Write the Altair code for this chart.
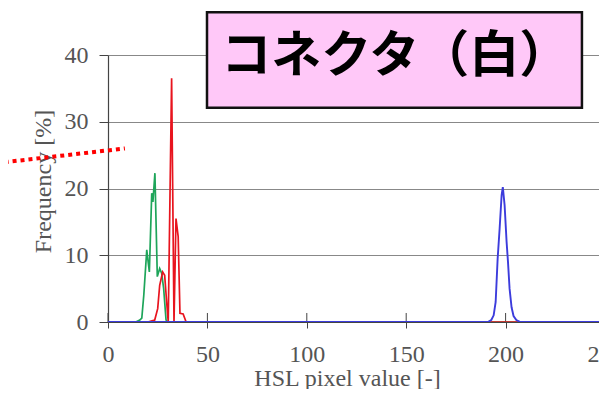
import altair as alt
import pandas as pd

# Series (HSL pixel value, frequency %)
green_x = [0, 14, 16, 17, 18, 19.5, 20.8, 22, 22.6, 23.6, 24.8, 26, 27, 28, 29.2, 30, 255]
green_y = [0, 0, 0.3, 0.6, 4, 10.8, 7.5, 19.3, 18, 22.3, 6.8, 8, 7.3, 5, 0.3, 0, 0]

red_x = [0, 20, 23.5, 25, 26, 27.5, 28.5, 29.5, 30.3, 32, 33.2, 34.2, 35.3, 36.2, 37.8, 39.3, 255]
red_y = [0, 0, 0.3, 2, 5.5, 7.5, 7, 3, 0, 36.5, 0, 15.5, 12.8, 1.3, 1.2, 0, 0]

blue_x = [0, 191, 192.8, 194, 195, 196, 197, 198, 198.6, 199.5, 200.5, 201.2, 202, 203, 204, 205.4, 207, 255]
blue_y = [0, 0, 0.3, 1, 3, 9.5, 14, 19, 20.2, 17.5, 12, 9, 5, 2.2, 0.9, 0.3, 0.05, 0]

x_ticks = [0, 50, 100, 150, 200, 250]
y_ticks = [0, 10, 20, 30, 40]
title_text = "コネクタ（白）"

rows = []
for name, xs, ys in [("green", green_x, green_y), ("red", red_x, red_y), ("blue", blue_x, blue_y)]:
    for xv, yv in zip(xs, ys):
        rows.append({"series": name, "x": xv, "y": yv})
df = pd.DataFrame(rows)

colors = {"green": "#1ea55a", "red": "#e8141e", "blue": "#3c3cdc"}

xscale = alt.Scale(domain=[0, 250], nice=False, zero=False)
yscale = alt.Scale(domain=[0, 40], nice=False)

xaxis = alt.Axis(values=x_ticks, title="HSL pixel value [-]", grid=False, tickSize=6,
                 labelPadding=14, titleX=239, titleY=63, titleBaseline="alphabetic",
                 labelFlush=False)
yaxis = alt.Axis(values=y_ticks, title="Frequency [%]", grid=True, tickSize=9,
                 labelPadding=11, titleX=-65, titleY=126, titleBaseline="middle",
                 titleAngle=270)

base = alt.Chart(df)

def series_layer(name, width):
    return base.transform_filter(alt.datum.series == name).mark_line(
        color=colors[name], strokeWidth=width, clip=True
    ).encode(
        x=alt.X("x:Q", scale=xscale, axis=xaxis),
        y=alt.Y("y:Q", scale=yscale, axis=yaxis),
    )

ticks_df = pd.DataFrame({"t": x_ticks})
inner_ticks = alt.Chart(ticks_df).mark_rule(color="#444", strokeWidth=1, clip=False).encode(
    x=alt.X("t:Q", scale=xscale, axis=xaxis),
    y=alt.datum(0),
    y2=alt.datum(1.35),
)

one = pd.DataFrame({"a": [0]})
box = alt.Chart(one).mark_rect(fill="#ffc8f8", stroke="#111", strokeWidth=2.5, clip=False).encode(
    x=alt.datum(49.8), x2=alt.datum(238.4), y=alt.datum(46.4), y2=alt.datum(32.1)
)
label = alt.Chart(one).mark_text(
    text=title_text, font="Noto Sans CJK JP", fontWeight="bold", fontSize=50,
    color="#000", align="center", baseline="middle", clip=False
).encode(x=alt.datum(144.5), y=alt.datum(39.7))

dotted = alt.Chart(one).mark_rule(color="#ff0000", strokeWidth=4, strokeDash=[4, 4], clip=False).encode(
    x=alt.datum(-56), x2=alt.datum(8.5), y=alt.datum(23.8), y2=alt.datum(26.0)
)

chart = alt.layer(
    inner_ticks,
    series_layer("green", 1.7),
    series_layer("red", 1.7),
    series_layer("blue", 1.9),
    box,
    label,
    dotted,
).properties(
    width=497, height=267,
    padding={"left": 100, "top": 47, "right": -6, "bottom": 67},
    autosize=alt.AutoSizeParams(type="none"),
    background="white",
).configure_view(strokeWidth=0).configure_axis(
    labelFont="Liberation Serif", labelFontSize=24, labelColor="#555",
    titleFont="Liberation Serif", titleFontSize=24, titleColor="#555", titleFontWeight="normal",
    domainColor="#444", tickColor="#444", gridColor="#888", gridWidth=1,
    domainWidth=1.2, tickWidth=1,
)

chart.save("out.html", embed_options={"renderer": "svg", "actions": False})
